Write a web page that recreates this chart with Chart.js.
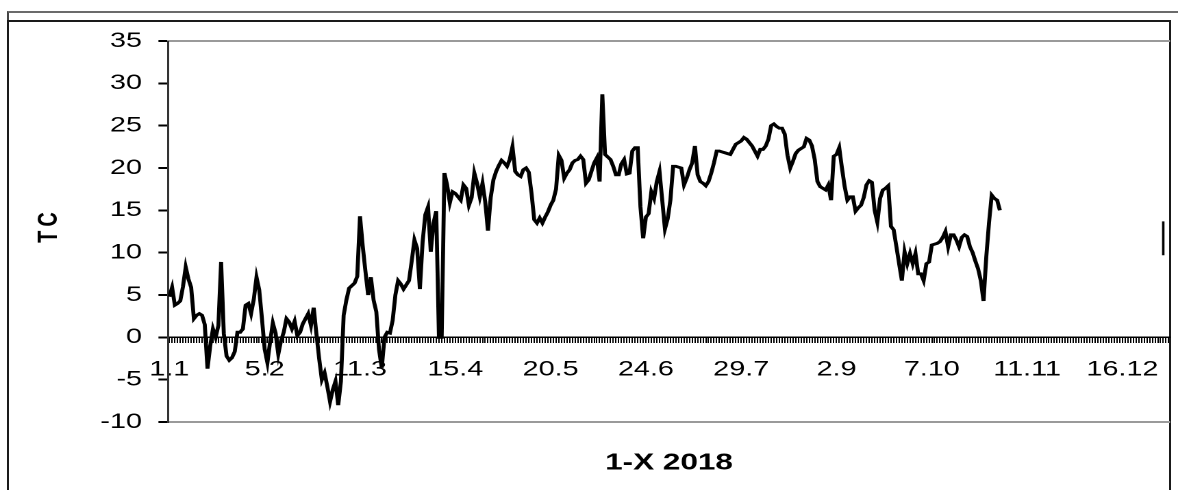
<!DOCTYPE html>
<html>
<head>
<meta charset="utf-8">
<script src="https://cdn.jsdelivr.net/npm/chart.js@4.4.1/dist/chart.umd.min.js"></script>
<style>
  html, body { margin: 0; padding: 0; background: #fff; overflow: hidden; }
  #sheet { position: absolute; left: 7px; top: 11px; width: 1200px; height: 600px; border-top: 2px solid #6b6b6b; border-left: 2px solid #444; }
  #frame { position: absolute; left: 7px; top: 20px; width: 1160px; height: 600px; border: 2px solid #1a1a1a; }
  #wrap { position: absolute; left: 0; top: 0; width: 860px; height: 490px; transform: scaleX(1.36977); transform-origin: 0 0; }
</style>
</head>
<body>
<div id="sheet"></div>
<div id="frame"></div>
<div id="wrap"><canvas id="chart" width="860" height="490"></canvas></div>
<script>
// daily values, 1.1 onwards
const dayCount = 368;
const tickDays = [0, 35, 70, 105, 140, 175, 210, 245, 280, 315, 350];
const tickLabels = ['1.1', '5.2', '11.3', '15.4', '20.5', '24.6', '29.7', '2.9', '7.10', '11.11', '16.12'];
const yTicks = [-10, -5, 0, 5, 10, 15, 20, 25, 30, 35];

const temps = [
    4.8, 5.9, 3.8, 4.0, 4.3, 6.0, 8.3, 6.9, 5.9, 2.2,
    2.6, 2.8, 2.6, 1.5, -3.7, -1.0, 1.0, 0.0, 1.4, 8.9,
    0.4, -2.2, -2.7, -2.4, -1.7, 0.6, 0.6, 1.0, 3.8, 4.0,
    2.8, 4.5, 7.1, 5.6, 2.2, -1.4, -3.0, -0.5, 1.7, 0.5,
    -2.0, -0.4, 0.6, 2.2, 1.8, 1.0, 1.9, 0.2, 0.6, 1.6,
    2.2, 2.8, 1.4, 3.5, 0.4, -2.5, -5.0, -4.2, -5.8, -7.6,
    -6.2, -5.2, -8.0, -5.2, 2.6, 4.4, 5.8, 6.1, 6.4, 7.2,
    14.3, 10.8, 7.8, 5.0, 7.1, 4.4, 3.0, -1.5, -3.6, 0.0,
    0.6, 0.5, 2.0, 5.0, 6.7, 6.3, 5.7, 6.2, 6.7, 9.0,
    11.5, 10.5, 5.7, 11.3, 14.5, 15.4, 10.1, 13.5, 14.9, 0.0,
    0.0, 19.4, 18.0, 15.9, 17.2, 17.0, 16.6, 16.2, 18.0, 17.6,
    15.6, 16.5, 19.4, 18.2, 16.6, 18.2, 16.0, 12.6, 16.5, 18.6,
    19.6, 20.3, 20.9, 20.6, 20.2, 21.0, 22.5, 19.6, 19.2, 19.0,
    19.8, 20.0, 19.5, 17.0, 13.9, 13.5, 14.1, 13.5, 14.2, 14.8,
    15.6, 16.2, 17.5, 21.5, 20.9, 18.8, 19.4, 19.8, 20.6, 20.9,
    21.0, 21.4, 21.0, 18.2, 18.6, 19.6, 20.6, 21.2, 18.4, 28.7,
    21.6, 21.3, 21.0, 20.2, 19.2, 19.2, 20.5, 21.0, 19.3, 19.4,
    22.0, 22.4, 22.4, 15.4, 11.7, 14.2, 14.6, 17.2, 16.4, 18.4,
    19.6, 16.2, 12.8, 14.0, 16.2, 20.2, 20.2, 20.1, 20.0, 18.0,
    18.8, 19.8, 20.6, 22.6, 19.2, 18.4, 18.2, 17.9, 18.4, 19.4,
    20.6, 22.0, 22.0, 21.9, 21.8, 21.7, 21.6, 22.2, 22.8, 23.0,
    23.2, 23.6, 23.4, 23.0, 22.6, 22.0, 21.4, 22.2, 22.2, 22.6,
    23.4, 25.0, 25.2, 24.9, 24.7, 24.7, 24.0, 21.5, 20.0, 20.8,
    21.7, 22.1, 22.3, 22.5, 23.5, 23.3, 22.6, 21.0, 18.4, 17.8,
    17.6, 17.4, 18.0, 16.2, 21.4, 21.6, 22.4, 20.0, 17.8, 16.2,
    16.6, 16.6, 14.9, 15.3, 15.6, 16.5, 18.0, 18.5, 18.3, 15.0,
    13.6, 16.4, 17.4, 17.6, 17.9, 13.1, 12.7, 10.7, 8.7, 6.7,
    10.1, 8.7, 9.9, 8.7, 9.9, 7.5, 7.5, 6.7, 8.7, 8.9,
    10.9, 11.0, 11.1, 11.3, 11.8, 12.5, 10.7, 12.1, 12.1, 11.5,
    10.7, 11.8, 12.1, 11.9, 10.7, 10.0, 9.0, 8.1, 6.7, 4.3,
    9.5, 13.5, 16.8, 16.4, 16.2, 15.0
];

// the short piece at the very end of the year
const lateDays = [365, 365];
const lateTemps = [9.7, 13.7];

Chart.defaults.font.family = '"Liberation Sans", Arial, sans-serif';
Chart.defaults.color = '#000';

// spread the letters of the rotated axis title a bit
const titleSpacing = {
    id: 'titleSpacing',
    beforeDraw(chart) {
        const s = chart.scales.y;
        if (s._spaced) return;
        const draw = s.drawTitle.bind(s);
        s.drawTitle = function () {
            const ctx = chart.ctx;
            ctx.save();
            ctx.letterSpacing = '4px';
            ctx.translate(0, -6);
            draw();
            ctx.restore();
        };
        s._spaced = true;
    }
};

const noSidePadding = (s) => { s.paddingLeft = 0; s.paddingRight = 0; };

new Chart(document.getElementById('chart'), {
    type: 'line',
    data: {
        datasets: [
            {
                data: temps.map((v, i) => ({ x: i, y: v })),
                borderColor: '#000',
                borderWidth: 2.9,
                pointRadius: 0,
                tension: 0,
                fill: false,
            },
            {
                data: lateDays.map((d, i) => ({ x: d, y: lateTemps[i] })),
                borderColor: '#000',
                borderWidth: 1.8,
                pointRadius: 0,
                fill: false,
            },
        ],
    },
    options: {
        responsive: false,
        animation: false,
        devicePixelRatio: 2,
        layout: { padding: { top: 41, right: 5.8, left: 0, bottom: 0 } },
        plugins: {
            legend: false,
            tooltip: { enabled: false }
        },
        scales: {
            x: {
                type: 'linear',
                position: 'bottom',
                min: -0.5,
                max: dayCount - 0.5,
                ticks: { display: false },
                grid: { display: false },
                border: { display: false },
                afterFit: (s) => { s.height = 68; noSidePadding(s); },
                title: {
                    display: true,
                    text: '1-X 2018',
                    color: '#000',
                    font: { size: 23, weight: 'bold' },
                    padding: { top: 0, bottom: 13 }
                }
            },
            xd: {
                type: 'linear',
                axis: 'x',
                position: { y: 0 },
                min: -0.5,
                max: dayCount - 0.5,
                afterBuildTicks: (s) => {
                    s.ticks = Array.from({ length: dayCount }, (_, i) => ({ value: i }));
                },
                afterFit: noSidePadding,
                ticks: {
                    autoSkip: false,
                    maxRotation: 0,
                    minRotation: 0,
                    color: '#000',
                    font: { size: 21 },
                    padding: 15,
                    callback: (v) => {
                        const k = tickDays.indexOf(v);
                        return k >= 0 ? tickLabels[k] : '';
                    }
                },
                grid: { drawOnChartArea: false, tickLength: 5, tickColor: '#000', color: '#000', lineWidth: 1 },
                border: { display: true, color: '#000', width: 1.5 }
            },
            y: {
                type: 'linear',
                min: -10,
                max: 35,
                afterBuildTicks: (s) => { s.ticks = yTicks.map(v => ({ value: v })); },
                afterFit: (s) => { s.width = 122.65; },
                ticks: { color: '#000', font: { size: 21 }, padding: 12 },
                grid: {
                    color: (c) => (c.tick && (c.tick.value === 35 || c.tick.value === -10)) ? '#9a9a9a' : 'rgba(0,0,0,0)',
                    tickColor: '#000',
                    tickLength: 7,
                    lineWidth: 2
                },
                border: { display: true, color: '#333', width: 1.5 },
                title: {
                    display: true,
                    text: 'TC',
                    color: '#000',
                    font: { size: 20, weight: 'bold' },
                    padding: { top: 24, bottom: 0 }
                }
            }
        }
    },
    plugins: [titleSpacing]
});
</script>
</body>
</html>
